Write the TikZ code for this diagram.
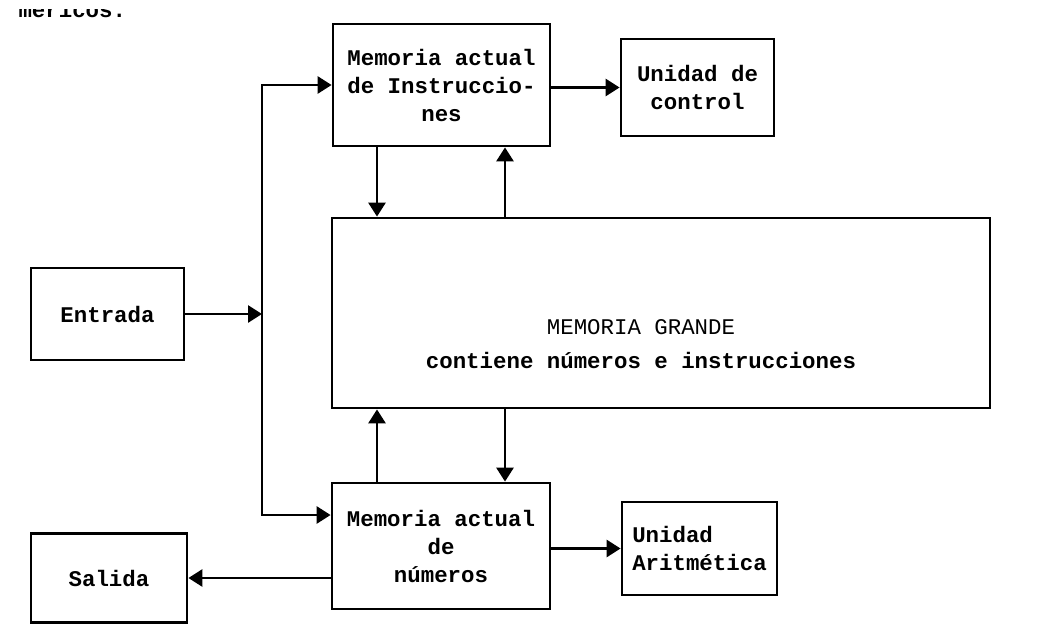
\documentclass[tikz,border=0pt]{standalone}
\usepackage{fontspec}
\setmonofont{Liberation Mono}
\usetikzlibrary{arrows.meta,positioning,calc}

\begin{document}
\begin{tikzpicture}[x=1pt,y=-1pt,
  font=\ttfamily\bfseries\fontsize{22.4}{28}\selectfont,
  bloque/.style={rectangle,draw,line width=2.8pt,inner sep=0pt,align=center},
  flecha/.style={line width=2.8pt,-{Triangle[length=14pt,width=17pt]}}]

  \useasboundingbox (0,0) rectangle (1050,634);
  \clip (0,10) rectangle (1050,634);

  \node[anchor=base west] (resto) at (15,18) {méricos.};

  \node[bloque,minimum width=217pt,minimum height=122pt] (instr)   at (441.5,85)   {Memoria actual\\de Instruccio-\\nes};
  \node[bloque,minimum width=153pt,minimum height=97pt]  (control) at (697.5,87.5) {Unidad de\\control};
  \node[bloque,minimum width=153pt,minimum height=92pt]  (entrada) at (107.5,314)  {Entrada};
  \node[bloque,minimum width=658pt,minimum height=190pt] (grande)  at (661,313)    {};
  \node[align=center] (grande-txt) at (641,344)
    {\mdseries MEMORIA GRANDE\\[6pt]\bfseries contiene números e instrucciones};
  \node[bloque,minimum width=218pt,minimum height=126pt] (numeros) at (441,546)    {Memoria actual\\de\\números};
  \node[bloque,minimum width=155pt,minimum height=93pt,align=left] (aritmetica) at (699.5,548.5) {Unidad\\Aritmética};
  \node[bloque,minimum width=156pt,minimum height=89pt]  (salida)  at (109,578)    {Salida};

  \coordinate (bus)   at (262,314);
  \coordinate (baja)  at (377,0);
  \coordinate (sube)  at (505,0);

  \draw[flecha] (entrada.east) -- (entrada.east -| bus);
  \draw[flecha] (bus) |- (instr.west);
  \draw[flecha] (bus) |- ([yshift=31pt]numeros.west);
  \draw[flecha] (control.west -| instr.east) -- (control.west);
  \draw[flecha] (aritmetica.west -| numeros.east) -- (aritmetica.west);
  \draw[flecha] ([yshift=-32pt]numeros.west) -- (salida.east);

  \draw[flecha] (instr.south -| baja) -- (grande.north -| baja);
  \draw[flecha] (grande.north -| sube) -- (instr.south -| sube);
  \draw[flecha] (numeros.north -| baja) -- (grande.south -| baja);
  \draw[flecha] (grande.south -| sube) -- (numeros.north -| sube);
\end{tikzpicture}
\end{document}
